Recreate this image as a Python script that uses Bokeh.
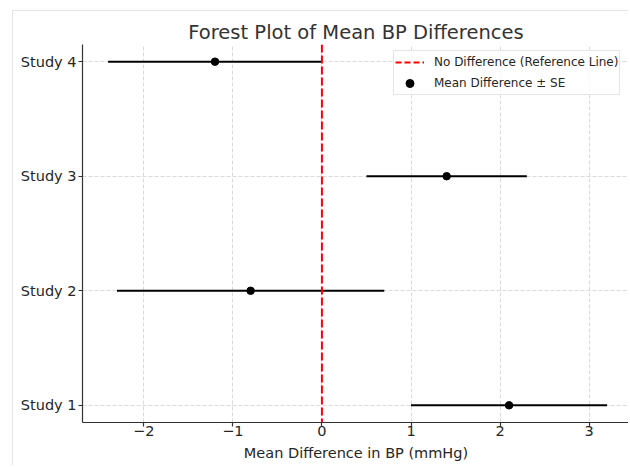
from bokeh.plotting import figure
from bokeh.models import (Range1d, FixedTicker, Span, Legend, LegendItem,
                          ColumnDataSource, Title)
from bokeh.embed import file_html
from bokeh.resources import INLINE

# ---- data ----
studies = ["Study 1", "Study 2", "Study 3", "Study 4"]
mean_diff = [2.1, -0.8, 1.4, -1.2]
std_err = [1.1, 1.5, 0.9, 1.2]
x_ticks = [-2, -1, 0, 1, 2, 3]
x_tick_labels = ["\u22122", "\u22121", "0", "1", "2", "3"]
reference_value = 0

title_text = "Forest Plot of Mean BP Differences"
x_label = "Mean Difference in BP (mmHg)"
ref_label = "No Difference (Reference Line)"
pts_label = "Mean Difference \u00b1 SE"

FONT = "DejaVu Sans"
TXT = "#262626"

ypos = list(range(len(studies)))
src = ColumnDataSource(dict(
    y=ypos,
    mean=mean_diff,
    lo=[m - s for m, s in zip(mean_diff, std_err)],
    hi=[m + s for m, s in zip(mean_diff, std_err)],
))

p = figure(width=616, height=455, output_backend="svg", toolbar_location=None,
           x_range=Range1d(-2.687, 3.452), y_range=Range1d(-0.15, 3.15),
           min_border_left=69, min_border_right=0, min_border_top=33,
           min_border_bottom=44)
p.styles = {"margin-left": "12px", "margin-top": "10px",
            "border-left": "1px solid #e4e4e4",
            "border-top": "1px solid #e4e4e4"}
p.outline_line_color = None
p.background_fill_color = "white"
p.border_fill_color = "white"

# title
p.title.text = title_text
p.title.align = "center"
p.title.text_font = FONT
p.title.text_font_size = "19.5px"
p.title.text_font_style = "normal"
p.title.text_color = "#333333"
p.title.standoff = 2

# axes
for ax in (p.xaxis[0], p.yaxis[0]):
    ax.axis_line_color = "#333333"
    ax.axis_line_width = 1.2
    ax.major_tick_line_color = "#333333"
    ax.major_tick_line_width = 1.2
    ax.major_tick_out = 4
    ax.major_tick_in = 0
    ax.minor_tick_line_color = None
    ax.major_label_text_font = FONT
    ax.major_label_text_font_size = "14.5px"
    ax.major_label_text_color = TXT

p.xaxis.ticker = FixedTicker(ticks=x_ticks)
p.xaxis.major_label_overrides = dict(zip(x_ticks, x_tick_labels))
p.xaxis.major_label_standoff = -1
p.yaxis.ticker = FixedTicker(ticks=ypos)
p.yaxis.major_label_overrides = dict(zip(ypos, studies))
p.yaxis.major_label_standoff = 2

p.add_layout(Title(text=x_label, align="center", text_font=FONT,
                   text_font_size="14.5px", text_font_style="normal",
                   text_color=TXT, standoff=8), "below")

# grid
for g in (p.xgrid[0], p.ygrid[0]):
    g.grid_line_color = "#d0d0d0"
    g.grid_line_dash = "4 2"
    g.grid_line_width = 0.8

# error bars and points
p.segment(x0="lo", x1="hi", y0="y", y1="y", source=src,
          line_color="black", line_width=2)
dots = p.scatter(x="mean", y="y", source=src, size=7.5, marker="circle",
                 fill_color="black", line_color="black")

# reference line
p.add_layout(Span(location=reference_value, dimension="height",
                  line_color="red", line_dash="8 3", line_width=2))
ref_dummy = p.line(x=[reference_value], y=[ypos[0]], line_color="red",
                   line_dash="6 3", line_width=2)

legend = Legend(items=[LegendItem(label=ref_label, renderers=[ref_dummy]),
                       LegendItem(label=pts_label, renderers=[dots])],
                location=(311, 327), padding=1, spacing=1, margin=0,
                glyph_width=29, glyph_height=20, label_height=20,
                label_standoff=10, label_text_font=FONT,
                label_text_font_size="12px", label_text_color=TXT,
                border_line_color="#cccccc", border_line_width=1,
                background_fill_color="white", background_fill_alpha=0.8)
p.add_layout(legend)

open("out.html", "w").write(file_html(p, INLINE))
